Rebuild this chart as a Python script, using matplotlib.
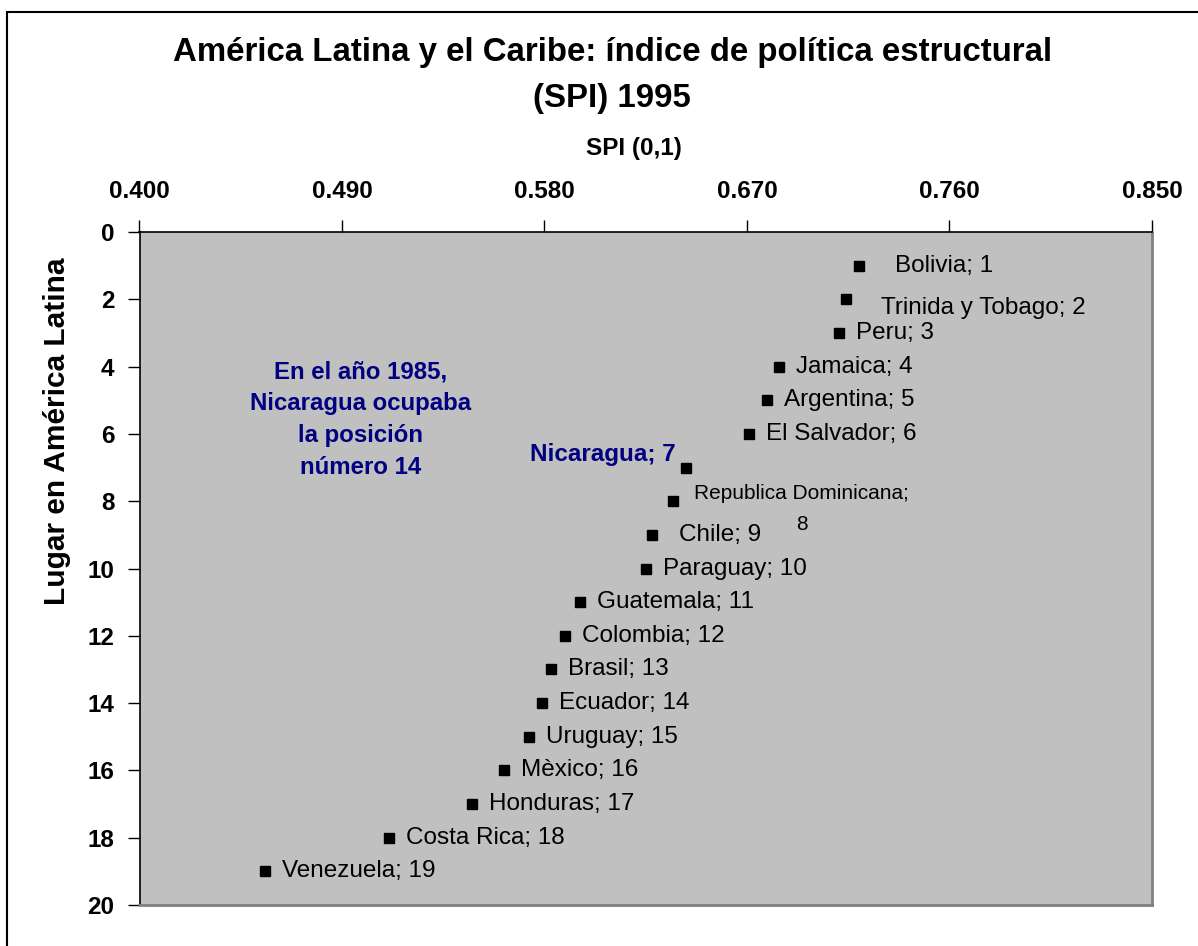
import numpy as np
import matplotlib.pyplot as plt
from matplotlib.patches import Rectangle

plt.rcParams['font.family'] = ['Liberation Sans', 'DejaVu Sans']

# datos: SPI 1995 y lugar en America Latina
paises = ['Bolivia', 'Trinida y Tobago', 'Peru', 'Jamaica', 'Argentina',
          'El Salvador', 'Nicaragua', 'Republica Dominicana', 'Chile',
          'Paraguay', 'Guatemala', 'Colombia', 'Brasil', 'Ecuador',
          'Uruguay', 'Mèxico', 'Honduras', 'Costa Rica', 'Venezuela']
lugar = [1, 2, 3, 4, 5, 6, 7, 8, 9, 10, 11, 12, 13, 14, 15, 16, 17, 18, 19]
spi = [0.720, 0.714, 0.711, 0.684, 0.679, 0.671, 0.643, 0.637, 0.628,
       0.625, 0.596, 0.589, 0.583, 0.579, 0.573, 0.562, 0.548, 0.511, 0.456]

xticks = [0.400, 0.490, 0.580, 0.670, 0.760, 0.850]
yticks = [0, 2, 4, 6, 8, 10, 12, 14, 16, 18, 20]

azul = '#000080'
gris = '#C0C0C0'

fig = plt.figure(figsize=(11.98, 9.46), dpi=100)
fig.patch.set_facecolor('white')
ax = fig.add_axes([139.5/1198, 1-905/946, (1152-139.5)/1198, (905-232)/946])
ax.set_facecolor(gris)

ax.plot(spi, lugar, 's', color='black', ms=7.2, ls='none')

ax.set_xlim(0.400, 0.850)
ax.set_ylim(20, 0)
ax.set_xticks(xticks)
ax.set_xticklabels(['%.3f' % v for v in xticks])
ax.set_yticks(yticks)
ax.xaxis.tick_top()
ax.tick_params(axis='x', direction='out', length=9, width=1, pad=12,
               labelsize=17.5, top=True, bottom=False)
ax.tick_params(axis='y', direction='out', length=9, width=1, pad=9,
               labelsize=17.5)
for lab in ax.get_xticklabels() + ax.get_yticklabels():
    lab.set_fontweight('bold')

ax.spines['top'].set_color('black')
ax.spines['left'].set_color('black')
ax.spines['top'].set_linewidth(1.2)
ax.spines['left'].set_linewidth(1.2)
ax.spines['right'].set_color('#808080')
ax.spines['bottom'].set_color('#808080')
ax.spines['right'].set_linewidth(2)
ax.spines['bottom'].set_linewidth(2)

# desplazamiento de etiquetas (px)
desp = {'Bolivia': (36, 0), 'Trinida y Tobago': (35, -9), 'Chile': (27, 0)}
for p, x, y in zip(paises, spi, lugar):
    if p == 'Nicaragua':
        ax.annotate('%s; %d' % (p, y), (x, y), xytext=(-10*0.72, 13*0.72),
                    textcoords='offset points', ha='right', va='center',
                    fontsize=17.5, fontweight='bold', color=azul)
    elif p == 'Republica Dominicana':
        # etiqueta partida en dos lineas como en el original
        ax.annotate('%s;' % p, (x, y), xytext=(129*0.72, 8*0.72),
                    textcoords='offset points', ha='center', va='center',
                    fontsize=15)
        ax.annotate('%d' % y, (x, y), xytext=(129*0.72, -23*0.72),
                    textcoords='offset points', ha='center', va='center',
                    fontsize=15)
    else:
        dx, dy = desp.get(p, (17, 0))
        ax.annotate('%s; %d' % (p, y), (x, y), xytext=(dx*0.72, dy*0.72),
                    textcoords='offset points', ha='left', va='center',
                    fontsize=17.5)

ax.text(0.218, 0.721, 'En el año 1985,\nNicaragua ocupaba\nla posición\nnúmero 14',
        transform=ax.transAxes, ha='center', va='center', fontsize=17.3,
        fontweight='bold', color=azul, linespacing=1.5)

fig.text(0.511, 1-52/946, 'América Latina y el Caribe: índice de política estructural',
         ha='center', va='center', fontsize=23.8, fontweight='bold')
fig.text(0.511, 1-98/946, '(SPI) 1995', ha='center', va='center',
         fontsize=23.8, fontweight='bold')
fig.text(634/1198, 1-148/946, 'SPI (0,1)', ha='center', va='center',
         fontsize=17.5, fontweight='bold')
fig.text(57/1198, 1-431/946, 'Lugar en América Latina', rotation=90,
         ha='center', va='center', fontsize=21.5, fontweight='bold')

# marco exterior
fig.patches.append(Rectangle((7/1198, -0.1), 1.2, 1.1 - 12/946,
                             transform=fig.transFigure, fill=False,
                             edgecolor='black', linewidth=1.5))

plt.savefig('out.png', dpi=100)
